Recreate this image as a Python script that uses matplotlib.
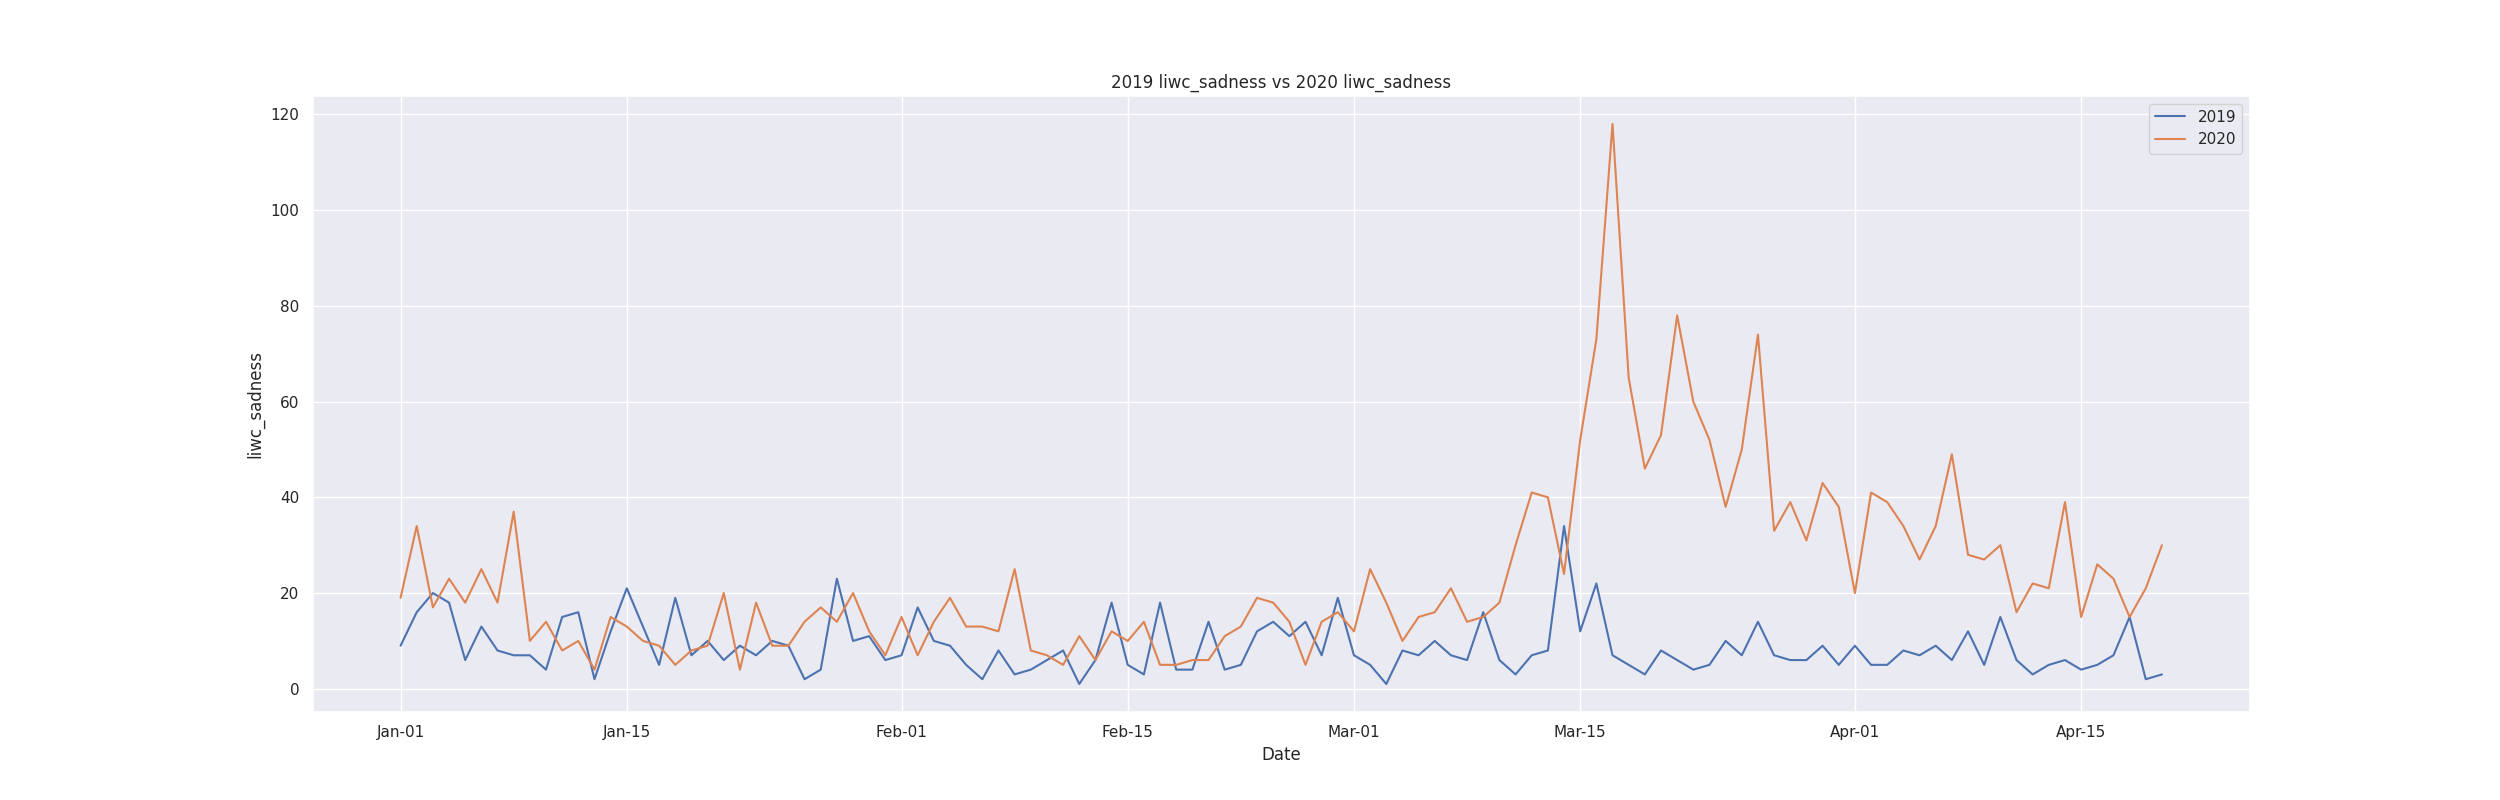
import numpy as np
import pandas as pd
import matplotlib
matplotlib.use("Agg")
import matplotlib.pyplot as plt
import matplotlib.dates as mdates
import seaborn as sns

## daily counts, Jan-01 .. Apr-20 (both years drawn on the same calendar)
dates = pd.date_range("2019-01-01", "2019-04-20", freq="D")

sadness_2019 = [
    9, 16, 20, 18, 6, 13, 8, 7, 7, 4, 15, 16, 2, 12, 21, 13, 5, 19, 7, 10,
    6, 9, 7, 10, 9, 2, 4, 23, 10, 11, 6, 7, 17, 10, 9, 5, 2, 8, 3, 4,
    6, 8, 1, 6, 18, 5, 3, 18, 4, 4, 14, 4, 5, 12, 14, 11, 14, 7, 19, 7,
    5, 1, 8, 7, 10, 7, 6, 16, 6, 3, 7, 8, 34, 12, 22, 7, 5, 3, 8, 6,
    4, 5, 10, 7, 14, 7, 6, 6, 9, 5, 9, 5, 5, 8, 7, 9, 6, 12, 5, 15,
    6, 3, 5, 6, 4, 5, 7, 15, 2, 3,
]

sadness_2020 = [
    19, 34, 17, 23, 18, 25, 18, 37, 10, 14, 8, 10, 4, 15, 13, 10, 9, 5, 8, 9,
    20, 4, 18, 9, 9, 14, 17, 14, 20, 12, 7, 15, 7, 14, 19, 13, 13, 12, 25, 8,
    7, 5, 11, 6, 12, 10, 14, 5, 5, 6, 6, 11, 13, 19, 18, 14, 5, 14, 16, 12,
    25, 18, 10, 15, 16, 21, 14, 15, 18, 30, 41, 40, 24, 52, 73, 118, 65, 46, 53, 78,
    60, 52, 38, 50, 74, 33, 39, 31, 43, 38, 20, 41, 39, 34, 27, 34, 49, 28, 27, 30,
    16, 22, 21, 39, 15, 26, 23, 15, 21, 30,
]

sns.set_theme(style="darkgrid")

fig, ax = plt.subplots(figsize=(25, 8), dpi=100)

ax.plot(dates, sadness_2019, label="2019")
ax.plot(dates, sadness_2020, label="2020")

ax.xaxis.set_major_locator(mdates.DayLocator(bymonthday=[1, 15]))
ax.xaxis.set_major_formatter(mdates.DateFormatter("%b-%d"))

ax.set_title("2019 liwc_sadness vs 2020 liwc_sadness")
ax.set_xlabel("Date")
ax.set_ylabel("liwc_sadness")
ax.legend(loc="upper right")

fig.savefig("out.png")
